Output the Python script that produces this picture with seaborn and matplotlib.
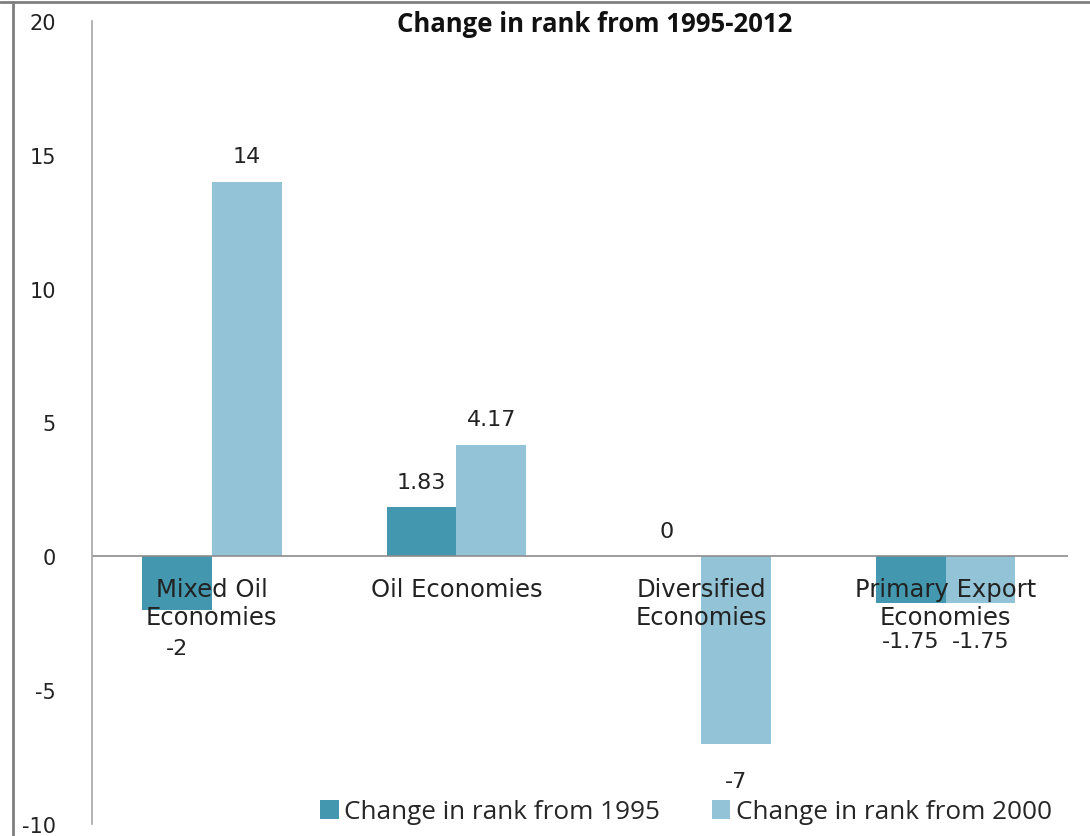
import matplotlib
matplotlib.use("Agg")
import matplotlib.pyplot as plt
from matplotlib.lines import Line2D
import seaborn as sns
import pandas as pd

# ---- data ----
categories = ["Mixed Oil\nEconomies", "Oil Economies", "Diversified\nEconomies", "Primary Export\nEconomies"]
series_names = ["Change in rank from 1995", "Change in rank from 2000"]
values_1995 = [-2, 1.83, 0, -1.75]
values_2000 = [14, 4.17, -7, -1.75]
yticks = [-10, -5, 0, 5, 10, 15, 20]
title = "Change in rank from 1995-2012"

colors = ["#4397AE", "#93C3D6"]

df = pd.DataFrame({
    "category": categories * 2,
    "series": [series_names[0]] * 4 + [series_names[1]] * 4,
    "value": values_1995 + values_2000,
})

sns.set_style("white")
plt.rcParams["font.family"] = ["DejaVu Sans"]

W, H = 1090, 837
fig = plt.figure(figsize=(W / 100, H / 100), dpi=100)
ax = fig.add_axes([92 / W, 1 - 825 / H, (1068 - 92) / W, (825 - 22) / H])

sns.barplot(data=df, x="category", y="value", hue="series", order=categories,
            hue_order=series_names, palette=colors, width=0.57, saturation=1,
            errorbar=None, ax=ax, linewidth=0)

ax.set_ylim(-10, 20)
ax.set_xlim(-0.49, 3.5)
ax.set_yticks(yticks)
ax.set_yticklabels([str(t) for t in yticks], fontsize=15, color="#222222")
ax.tick_params(axis="y", length=0, pad=26)
ax.set_xticks([])
ax.set_xlabel("")
ax.set_ylabel("")
for s in ["top", "right", "bottom"]:
    ax.spines[s].set_visible(False)
ax.spines["left"].set_color("#A6A6A6")
ax.spines["left"].set_linewidth(1.2)
ax.axhline(0, color="#8C8C8C", linewidth=1.2, zorder=2)

# data labels
for cont in ax.containers:
    for bar in cont:
        v = bar.get_height()
        if bar.get_y() < 0:
            v = bar.get_y()
        xc = bar.get_x() + bar.get_width() / 2
        if v >= 0:
            ax.annotate(f"{v:g}", (xc, v), xytext=(0, 11), textcoords="offset points",
                        ha="center", va="bottom", fontsize=16, color="#222222")
        else:
            ax.annotate(f"{v:g}", (xc, v), xytext=(0, -20), textcoords="offset points",
                        ha="center", va="top", fontsize=16, color="#222222")

# category labels near the zero line
for i, lab in enumerate(categories):
    ax.text(i, -0.78, lab, ha="center", va="top", fontsize=17.5, color="#222222",
            linespacing=1.22, zorder=5)

# title
fig.text(595 / W, 1 - 24 / H, title, ha="center", va="center", fontsize=18.5,
         fontweight="bold", family=["Open Sans", "DejaVu Sans"], color="#111111")

# legend
handles, labels = ax.get_legend_handles_labels()
if ax.get_legend() is not None:
    ax.get_legend().remove()
fig.legend(handles, labels, loc="center", bbox_to_anchor=(686 / W, 1 - 813 / H),
           ncol=2, frameon=False, handlelength=0.7, handleheight=0.7,
           handletextpad=0.2, columnspacing=2.0,
           prop={"family": ["Open Sans", "DejaVu Sans"], "size": 18.8})

# outer frame (top and left)
fig.add_artist(Line2D([0, 1], [1 - 3 / H, 1 - 3 / H], transform=fig.transFigure,
                      color="#7F7F7F", linewidth=2))
fig.add_artist(Line2D([13 / W, 13 / W], [0, 1 - 3 / H], transform=fig.transFigure,
                      color="#7F7F7F", linewidth=2))

fig.savefig("out.png", dpi=100)
